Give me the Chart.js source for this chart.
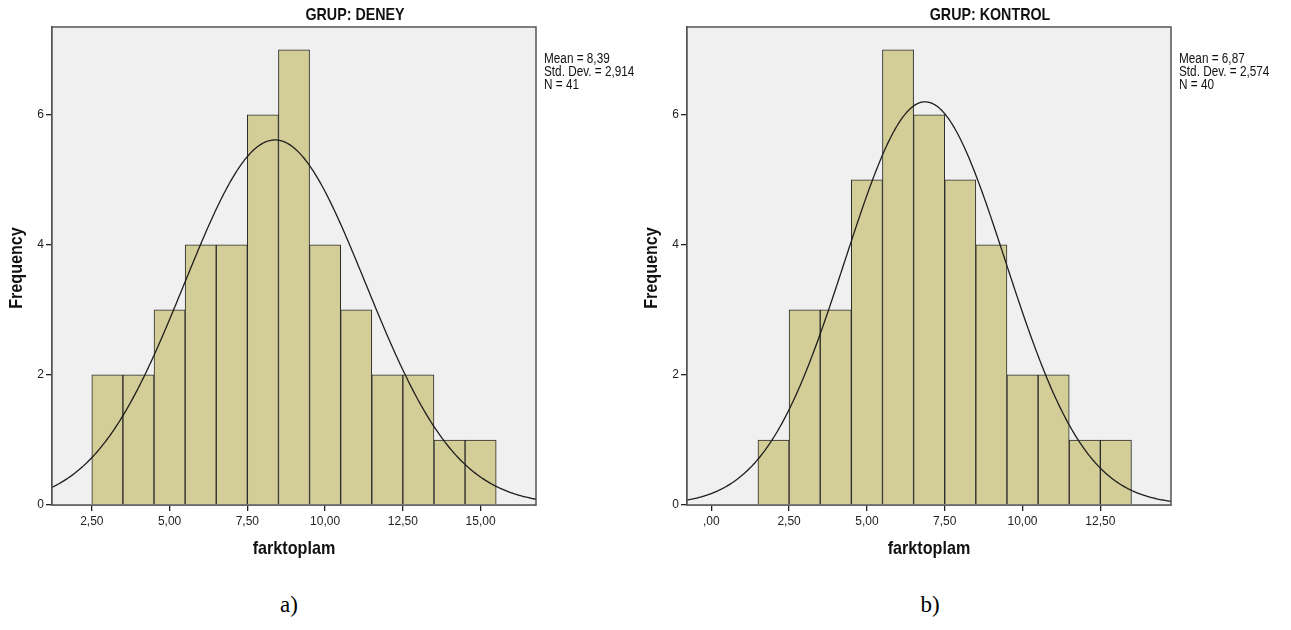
<!DOCTYPE html>
<html>
<head>
<meta charset="utf-8">
<script src="https://cdn.jsdelivr.net/npm/chart.js@4.4.1/dist/chart.umd.min.js"></script>
<style>
  html, body { margin:0; padding:0; background:#ffffff; }
  body { width:1291px; height:630px; position:relative; overflow:hidden; }
  canvas { position:absolute; top:0; }
  #cA { left:0; }
  #cB { left:635px; }
  .cap { position:absolute; top:592px; font-family:"Liberation Serif","Times New Roman",serif; font-size:23px; color:#000; transform:translateX(-50%); }
</style>
</head>
<body>
<canvas id="cA" width="645" height="575"></canvas>
<canvas id="cB" width="645" height="575"></canvas>
<div class="cap" style="left:289px">a)</div>
<div class="cap" style="left:930px">b)</div>
<script>
// ---------- data ----------
const TITLE_A = "GRUP: DENEY";
const TITLE_B = "GRUP: KONTROL";
const BIN_CENTERS_A = [3, 4, 5, 6, 7, 8, 9, 10, 11, 12, 13, 14, 15];
const FREQ_A        = [2, 2, 3, 4, 4, 6, 7, 4, 3, 2, 2, 1, 1];
const BIN_CENTERS_B = [2, 3, 4, 5, 6, 7, 8, 9, 10, 11, 12, 13];
const FREQ_B        = [1, 3, 3, 5, 7, 6, 5, 4, 2, 2, 1, 1];
const STATS_A = { mean: 8.39, sd: 2.914, n: 41 };
const STATS_B = { mean: 6.87, sd: 2.574, n: 40 };
const STATS_TEXT_A = ["Mean = 8,39", "Std. Dev. = 2,914", "N = 41"];
const STATS_TEXT_B = ["Mean = 6,87", "Std. Dev. = 2,574", "N = 40"];
const X_TICKS_A = [2.5, 5, 7.5, 10, 12.5, 15];
const X_TICKS_B = [0, 2.5, 5, 7.5, 10, 12.5];
const Y_TICKS = [0, 2, 4, 6];
const X_RANGE_A = [1.22, 16.78];
const X_RANGE_B = [-0.78, 14.77];
const Y_RANGE = [0, 7.35];
const X_TITLE = "farktoplam";
const Y_TITLE = "Frequency";
const BIN_WIDTH = 1;

// normal curve drawn by SPSS from the stated mean / sd / N
function normalCurve(stats, range) {
  const pts = [];
  const c = stats.n * BIN_WIDTH / (stats.sd * Math.sqrt(2 * Math.PI));
  for (let i = 0; i <= 400; i++) {
    const x = range[0] + (range[1] - range[0]) * i / 400;
    const z = (x - stats.mean) / stats.sd;
    pts.push({ x: x, y: c * Math.exp(-0.5 * z * z) });
  }
  return pts;
}

function fmtTick(v) {
  if (v === 0) return ",00";
  return v.toFixed(2).replace(".", ",");
}

const FONT = '"Liberation Sans", Arial, sans-serif';

// draws text horizontally condensed (SPSS uses a narrow face)
function condensedText(ctx, text, x, y, sx) {
  ctx.save();
  ctx.translate(x, y);
  ctx.scale(sx, 1);
  ctx.fillText(text, 0, 0);
  ctx.restore();
}

function decorPlugin(title, statsLines) {
  return {
    id: 'decor',
    beforeDatasetsDraw(chart) {
      const a = chart.chartArea, ctx = chart.ctx;
      ctx.save();
      ctx.fillStyle = '#f0f0f0';
      ctx.fillRect(a.left, a.top, a.right - a.left, a.bottom - a.top);
      ctx.restore();
    },
    afterDraw(chart) {
      const a = chart.chartArea, ctx = chart.ctx;
      ctx.save();
      ctx.strokeStyle = '#555555';
      ctx.lineWidth = 1.5;
      ctx.strokeRect(a.left, a.top, a.right - a.left, a.bottom - a.top);
      ctx.fillStyle = '#111';
      ctx.textBaseline = 'middle';
      // title
      ctx.font = 'bold 17px ' + FONT;
      ctx.textAlign = 'center';
      condensedText(ctx, title, 355, 15, 0.84);
      // stats
      ctx.font = '14px ' + FONT;
      ctx.textAlign = 'left';
      statsLines.forEach((s, i) => condensedText(ctx, s, a.right + 8, 59 + i * 13, 0.84));
      // axis titles
      ctx.font = 'bold 19px ' + FONT;
      ctx.textAlign = 'center';
      condensedText(ctx, X_TITLE, (a.left + a.right) / 2, 549, 0.85);
      ctx.save();
      ctx.translate(17, 268);
      ctx.rotate(-Math.PI / 2);
      condensedText(ctx, Y_TITLE, 0, 0, 0.85);
      ctx.restore();
      ctx.restore();
    }
  };
}

function makeChart(id, centers, freq, stats, xRange, xTicks, title, statsLines) {
  const bars = centers.map((c, i) => ({ x: c, y: freq[i] }));
  return new Chart(document.getElementById(id), {
    type: 'bar',
    data: {
      datasets: [
        {
          type: 'line',
          data: normalCurve(stats, xRange),
          borderColor: '#1e1e1e',
          borderWidth: 1.3,
          pointRadius: 0,
          fill: false,
          tension: 0,
          order: 0
        },
        {
          type: 'bar',
          data: bars,
          backgroundColor: '#d3ce98',
          borderColor: '#2a2a2a',
          borderWidth: 1,
          barPercentage: 1,
          categoryPercentage: 1,
          order: 1
        }
      ]
    },
    options: {
      responsive: false,
      animation: false,
      events: [],
      layout: { padding: { left: 0, right: 109, top: 27, bottom: 0 } },
      plugins: { legend: { display: false }, tooltip: { enabled: false }, title: { display: false } },
      scales: {
        x: {
          type: 'linear',
          min: xRange[0], max: xRange[1],
          offset: false,
          afterBuildTicks: s => { s.ticks = xTicks.map(v => ({ value: v })); },
          afterFit: s => { s.height = 70; },
          grid: { display: true, offset: false, drawOnChartArea: false, drawTicks: true, tickLength: 6, color: '#222', lineWidth: 1.3 },
          border: { display: true, color: '#444', width: 1.5 },
          ticks: { callback: v => fmtTick(v), font: { family: FONT, size: 12 }, color: '#222', padding: 3, maxRotation: 0, autoSkip: false }
        },
        y: {
          min: Y_RANGE[0], max: Y_RANGE[1],
          afterBuildTicks: s => { s.ticks = Y_TICKS.map(v => ({ value: v })); },
          afterFit: s => { s.width = 52; },
          grid: { display: true, offset: false, drawOnChartArea: false, drawTicks: true, tickLength: 6, color: '#222', lineWidth: 1.3 },
          border: { display: true, color: '#444', width: 1.5 },
          ticks: { callback: v => String(v), font: { family: FONT, size: 12 }, color: '#222', padding: 2 }
        }
      }
    },
    plugins: [decorPlugin(title, statsLines)]
  });
}

makeChart('cA', BIN_CENTERS_A, FREQ_A, STATS_A, X_RANGE_A, X_TICKS_A, TITLE_A, STATS_TEXT_A);
makeChart('cB', BIN_CENTERS_B, FREQ_B, STATS_B, X_RANGE_B, X_TICKS_B, TITLE_B, STATS_TEXT_B);
</script>
</body>
</html>
